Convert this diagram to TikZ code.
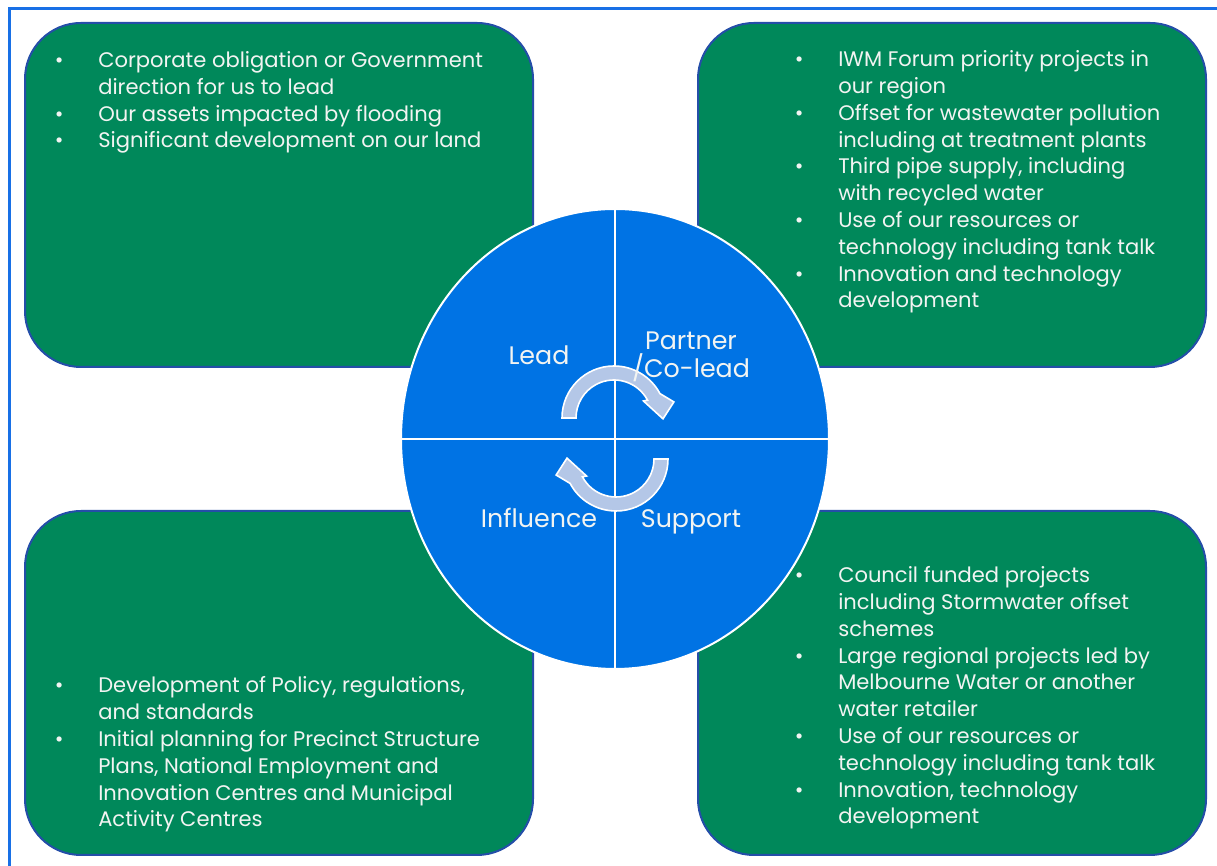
\documentclass[tikz,border=0pt]{standalone}
\usepackage{fontspec}
\setmainfont{Poppins}
\usetikzlibrary{shapes.geometric}

\definecolor{frameblue}{RGB}{24,112,230}
\definecolor{cardgreen}{RGB}{0,136,90}
\definecolor{cardedge}{RGB}{36,78,168}
\definecolor{hubblue}{RGB}{0,115,228}
\definecolor{arrowfill}{RGB}{180,199,231}
\definecolor{softwhite}{RGB}{242,244,242}

% bullet line and its continuation
\newcommand\bpt[1]{\makebox[0pt]{\textbullet}\hspace{29.25pt}#1}
\newcommand\bgo[1]{\hspace*{29.25pt}#1}

\tikzset{
  card/.style={draw=cardedge, line width=1.5pt, fill=cardgreen, rounded corners=42pt,
    minimum width=381pt, minimum height=258pt, inner sep=0pt},
  cardtext/.style={text=softwhite, align=left, inner sep=0pt, font=\fontsize{15.8}{20.1}\selectfont},
  hub/.style={ellipse, fill=hubblue, draw=white, line width=1.5pt, inner sep=0pt,
    minimum width=321pt, minimum height=345pt},
  hublabel/.style={text=softwhite, align=center, inner sep=0pt, font=\fontsize{19}{21.5}\selectfont},
  cycarrow/.style={fill=arrowfill, draw=white, line width=1.2pt}
}

\begin{document}
\begin{tikzpicture}[x=0.75pt,y=0.75pt]
\useasboundingbox (0,0) rectangle (1217,866);
\draw[frameblue, line width=2.25pt] (9,0) -- (9,857) -- (1217,857);

% four cards
\node[card] (lead) at (279,671) {};
\node[card] (partner) at (952,671) {};
\node[card] (influence) at (279,183) {};
\node[card] (support) at (952,183) {};

% text blocks, placed by the baseline of their last line
\node[cardtext, anchor=base west] (leadtext) at (59,718) {\bpt{Corporate obligation or Government}\\
  \bgo{direction for us to lead}\\
  \bpt{Our assets impacted by flooding}\\
  \bpt{Significant development on our land}};
\node[cardtext, anchor=base west] (partnertext) at (799,558) {\bpt{IWM Forum priority projects in}\\
  \bgo{our region}\\
  \bpt{Offset for wastewater pollution}\\
  \bgo{including at treatment plants}\\
  \bpt{Third pipe supply, including}\\
  \bgo{with recycled water}\\
  \bpt{Use of our resources or}\\
  \bgo{technology including tank talk}\\
  \bpt{Innovation and technology}\\
  \bgo{development}};
\node[cardtext, anchor=base west] (influencetext) at (59,39) {\bpt{Development of Policy, regulations,}\\
  \bgo{and standards}\\
  \bpt{Initial planning for Precinct Structure}\\
  \bgo{Plans, National Employment and}\\
  \bgo{Innovation Centres and Municipal}\\
  \bgo{Activity Centres}};
\node[cardtext, anchor=base west] (supporttext) at (799,42) {\bpt{Council funded projects}\\
  \bgo{including Stormwater offset}\\
  \bgo{schemes}\\
  \bpt{Large regional projects led by}\\
  \bgo{Melbourne Water or another}\\
  \bgo{water retailer}\\
  \bpt{Use of our resources or}\\
  \bgo{technology including tank talk}\\
  \bpt{Innovation, technology}\\
  \bgo{development}};

% centre
\node[hub] (hub) at (615,427) {};
\draw[white, line width=1.5pt] (hub.north) -- (hub.south);
\draw[white, line width=1.5pt] (hub.west) -- (hub.east);

\foreach \cx/\cy/\rot in {614/448/0, 616/407/180}
  \filldraw[cycarrow, shift={(\cx,\cy)}, rotate=\rot] (180:52) arc[start angle=180, end angle=28, radius=52]
    -- (15:62) -- (-1:49) -- (30:34) -- (28:38) arc[start angle=28, end angle=180, radius=38] -- cycle;

\node[hublabel, anchor=base] (leadlbl) at (539,501) {Lead};
\node[hublabel] (partnerlbl) at (691,509) {Partner\\/Co-lead};
\node[hublabel, anchor=base] (influencelbl) at (539,338) {Influence};
\node[hublabel, anchor=base] (supportlbl) at (691,338) {Support};
\end{tikzpicture}
\end{document}
